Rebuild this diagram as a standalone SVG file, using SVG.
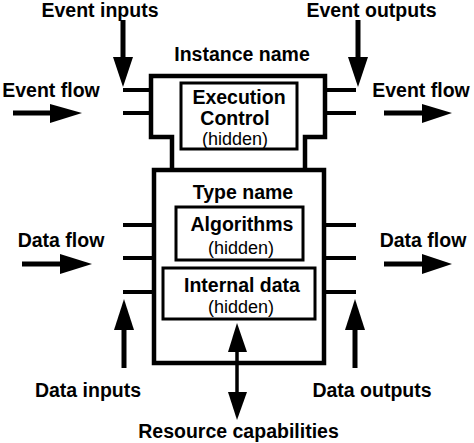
<svg xmlns="http://www.w3.org/2000/svg" width="474" height="443" viewBox="0 0 474 443">
<style>
.lbl{font-family:"Liberation Sans",Arial,sans-serif;font-weight:bold;font-size:19.5px;fill:#000;text-anchor:middle}
.hid{font-family:"Liberation Sans",Arial,sans-serif;font-size:18px;fill:#000;text-anchor:middle}
.box{fill:none;stroke:#000;stroke-width:4.5}
.inner{fill:none;stroke:#000;stroke-width:3}
.stub{stroke:#000;stroke-width:4;fill:none}
.shaft{stroke:#000;stroke-width:5;fill:none}
.head{fill:#000}
</style>
<rect width="474" height="443" fill="#fff"/>
<g id="connectors">
  <line class="stub" x1="123" y1="90" x2="151" y2="90"/>
  <line class="stub" x1="123" y1="113" x2="151" y2="113"/>
  <line class="stub" x1="325" y1="90" x2="356" y2="90"/>
  <line class="stub" x1="325" y1="113" x2="356" y2="113"/>
  <line class="stub" x1="123" y1="225" x2="154" y2="225"/>
  <line class="stub" x1="123" y1="258" x2="154" y2="258"/>
  <line class="stub" x1="123" y1="292" x2="154" y2="292"/>
  <line class="stub" x1="324" y1="225" x2="356" y2="225"/>
  <line class="stub" x1="324" y1="258" x2="356" y2="258"/>
  <line class="stub" x1="324" y1="292" x2="356" y2="292"/>
  <line class="shaft" x1="123" y1="20" x2="123" y2="60"/>
  <polygon class="head" points="113,57 133,57 123,87"/>
  <line class="shaft" x1="358" y1="20" x2="358" y2="60"/>
  <polygon class="head" points="348,57 368,57 358,87"/>
  <line class="shaft" x1="13" y1="113" x2="54" y2="113"/>
  <polygon class="head" points="50,104 50,123 82,113"/>
  <line class="shaft" x1="384" y1="113" x2="425" y2="113"/>
  <polygon class="head" points="422,104 422,123 452,113"/>
  <line class="shaft" x1="22" y1="264" x2="64" y2="264"/>
  <polygon class="head" points="60,254 60,274 92,264"/>
  <line class="shaft" x1="384" y1="264" x2="425" y2="264"/>
  <polygon class="head" points="422,254 422,274 452,264"/>
  <line class="shaft" x1="124" y1="326" x2="124" y2="368"/>
  <polygon class="head" points="114,330 134,330 124,299"/>
  <line class="shaft" x1="355" y1="326" x2="355" y2="368"/>
  <polygon class="head" points="345,330 365,330 355,299"/>
  <line stroke="#000" stroke-width="3.5" x1="237" y1="348" x2="237" y2="396"/>
  <polygon class="head" points="228,352 247,352 237,323"/>
  <polygon class="head" points="228,392 247,392 237,420"/>
</g>
<g id="event-block">
  <path class="box" d="M172,170 V137 H151 V76 H325 V137 H305 V170"/>
  <text class="lbl" x="242" y="61">Instance name</text>
</g>
<g id="execution-control">
  <rect class="inner" x="181" y="83" width="116" height="66"/>
  <text class="lbl" x="239" y="104">Execution</text>
  <text class="lbl" x="235" y="125">Control</text>
  <text class="hid" x="235" y="145">(hidden)</text>
</g>
<g id="data-block">
  <rect class="box" x="154" y="170" width="170" height="193"/>
  <text class="lbl" x="243" y="199">Type name</text>
</g>
<g id="algorithms">
  <rect class="inner" x="176" y="207" width="127" height="53"/>
  <text class="lbl" x="242" y="231">Algorithms</text>
  <text class="hid" x="241" y="254">(hidden)</text>
</g>
<g id="internal-data">
  <rect class="inner" x="163" y="268" width="152" height="51"/>
  <text class="lbl" x="242" y="292">Internal data</text>
  <text class="hid" x="241" y="313">(hidden)</text>
</g>
<g id="labels">
  <text class="lbl" x="100" y="17">Event inputs</text>
  <text class="lbl" x="371.5" y="17">Event outputs</text>
  <text class="lbl" x="51" y="97">Event flow</text>
  <text class="lbl" x="421" y="97">Event flow</text>
  <text class="lbl" x="61" y="247">Data flow</text>
  <text class="lbl" x="423" y="247">Data flow</text>
  <text class="lbl" x="88" y="397">Data inputs</text>
  <text class="lbl" x="372" y="397">Data outputs</text>
  <text class="lbl" x="238.5" y="438">Resource capabilities</text>
</g>
</svg>
